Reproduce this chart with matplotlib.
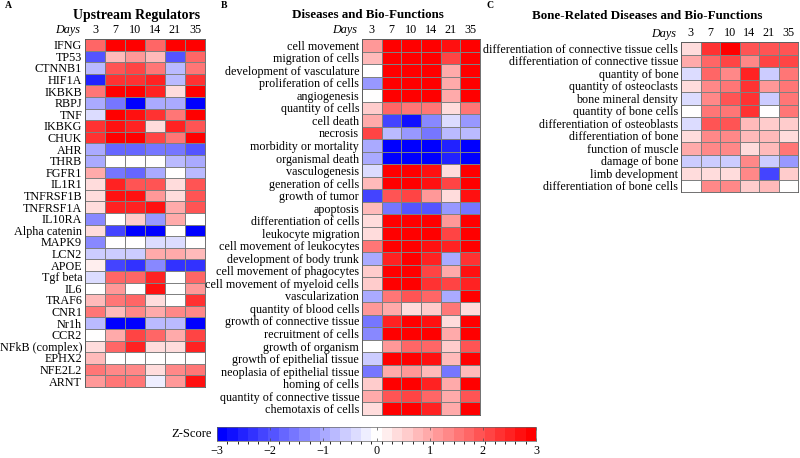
import numpy as np
import matplotlib
matplotlib.use("Agg")
import matplotlib.pyplot as plt
from matplotlib.colors import ListedColormap, BoundaryNorm

plt.rcParams['font.family'] = ['Liberation Serif', 'DejaVu Serif']

days = ["3", "7", "10", "14", "21", "35"]

# Panel A: upstream regulators (z-scores)
reg_names = ["IFNG", "TP53", "CTNNB1", "HIF1A", "IKBKB", "RBPJ", "TNF", "IKBKG",
             "CHUK", "AHR", "THRB", "FGFR1", "IL1R1", "TNFRSF1B", "TNFRSF1A",
             "IL10RA", "Alpha catenin", "MAPK9", "LCN2", "APOE", "Tgf beta", "IL6",
             "TRAF6", "CNR1", "Nr1h", "CCR2", "NFkB (complex)", "EPHX2", "NFE2L2", "ARNT"]
reg_z = [
    [1.8, 3, 3, 1.7, 3, 3],
    [-2.0, 0.8, 1.1, 0.8, -2.0, 1.8],
    [-0.7, 2.0, 2.2, 1.5, -0.7, 1.5],
    [-2.5, 2.3, 2.3, 2.6, -0.7, 2.3],
    [1.6, 3, 3, 2.6, 0.4, 3],
    [-0.9, -1.5, -3, -0.9, -0.9, -3],
    [-0.4, 3, 2.8, 2.4, 1.6, 3],
    [2.4, 2.7, 2.6, 0.4, 2.6, 2.0],
    [2.3, 3, 3, 2.2, 1.6, 3],
    [-0.9, -1.8, -1.7, -1.5, -1.6, -2.0],
    [-0.9, 0, 0, 0, -0.8, -0.9],
    [0.9, -1.6, -1.7, -0.9, 0, -0.7],
    [0.4, 2.6, 2.0, 2.0, 0.4, 2.0],
    [0.3, 2.8, 2.8, 1.1, 0.3, 2.0],
    [0.4, 2.6, 2.6, 2.8, 0.9, 2.0],
    [-1.3, 0, 0.5, -1.2, 0.9, 0],
    [0.4, -2.2, -3, -3, 0, -3],
    [-1.4, 0, 0, -0.4, -0.4, 0],
    [-0.5, -0.5, -0.5, 1.0, 1.0, 0.8],
    [0.2, -2.2, -2.3, -1.3, -2.3, -2.3],
    [-0.3, 1.7, 1.7, 2.6, 0, 1.7],
    [0, 1.2, 0, 2.7, 0, 1.2],
    [0.8, 1.6, 1.8, 0.3, 0, 2.4],
    [1.5, 0.8, 1.4, 1.0, 1.4, 1.4],
    [-0.8, -3, -3, -0.7, -0.7, -3],
    [0, 1.0, 2.2, 1.7, 1.0, 2.2],
    [0.4, 1.7, 2.6, 0.4, 0.3, 2.6],
    [0.7, 0, 0, 0, 0, 0],
    [1.6, 1.3, 1.3, 0.3, 1.3, 1.6],
    [1.2, 1.6, 1.6, -0.2, 1.1, 2.7],
]

# Panel B: diseases and bio-functions
fun_names = ["cell movement", "migration of cells", "development of vasculature",
             "proliferation of cells", "angiogenesis", "quantity of cells", "cell death",
             "necrosis", "morbidity or mortality", "organismal death", "vasculogenesis",
             "generation of cells", "growth of tumor", "apoptosis",
             "differentiation of cells", "leukocyte migration",
             "cell movement of leukocytes", "development of body trunk",
             "cell movement of phagocytes", "cell movement of myeloid cells",
             "vascularization", "quantity of blood cells", "growth of connective tissue",
             "recruitment of cells", "growth of organism", "growth of epithelial tissue",
             "neoplasia of epithelial tissue", "homing of cells",
             "quantity of connective tissue", "chemotaxis of cells"]
fun_z = [
    [1.2, 3, 3, 3, 2.7, 3],
    [0.7, 3, 3, 3, 2.2, 3],
    [0, 3, 3, 3, 0.9, 3],
    [-1.2, 3, 3, 3, 0.9, 3],
    [0, 3, 3, 3, 0.9, 3],
    [0.5, 1.8, 1.6, 1.5, 0.4, 1.5],
    [1.0, -2.2, -2.8, -1.4, -0.3, -1.2],
    [2.2, -0.8, -1.2, -1.5, -0.7, -0.8],
    [-1.0, -3, -3, -3, -2.5, -3],
    [-0.9, -3, -3, -3, -2.6, -3],
    [-0.3, 3, 3, 2.7, 0.3, 3],
    [0.8, 3, 3, 2.7, 2.2, 3],
    [-2.2, 2.0, 2.2, 1.2, 0.3, 2.8],
    [0.7, -1.5, -2.0, -2.0, -1.2, -1.5],
    [0.4, 3, 3, 3, 1.1, 3],
    [0.4, 3, 3, 3, 2.2, 3],
    [1.5, 3, 3, 2.8, 2.5, 3],
    [-1.0, 2.6, 3, 2.6, -0.9, 2.4],
    [0.6, 3, 3, 2.2, 0.9, 2.7],
    [0.6, 3, 3, 2.3, 2.2, 2.5],
    [-0.9, 1.5, 1.9, 1.8, -0.9, 3],
    [1.2, 1.0, 0.4, 0.6, 1.6, 0.3],
    [-1.5, 2.6, 3, 2.8, 0.4, 3],
    [-1.4, 3, 3, 3, 1.0, 3],
    [0, 1.1, 1.7, 1.7, 0.5, 2.0],
    [-0.6, 3, 3, 2.8, 0.7, 3],
    [-1.5, 0.9, 1.1, 0.8, -1.6, 0.8],
    [0.5, 3, 3, 2.5, 0.9, 3],
    [1.0, 2.0, 2.2, 1.8, 1.0, 2.0],
    [0.3, 3, 3, 2.5, 0.9, 3],
]

# Panel C: bone-related diseases and bio-functions
bone_names = ["differentiation of connective tissue cells",
              "differentiation of connective tissue", "quantity of bone",
              "quantity of osteoclasts", "bone mineral density", "quantity of bone cells",
              "differentiation of osteoblasts", "differentiation of bone",
              "function of muscle", "damage of bone", "limb development",
              "differentiation of bone cells"]
bone_z = [
    [0.4, 2.3, 2.9, 2.0, 1.9, 2.0],
    [0.9, 1.8, 2.2, 1.3, 2.1, 2.2],
    [-0.3, 1.8, 1.4, 2.5, -0.5, 1.5],
    [0.4, 1.4, 1.6, 2.4, 1.1, 1.6],
    [-0.3, 1.3, 2.0, 2.3, -0.5, 1.5],
    [0, 1.5, 1.5, 2.4, 0, 1.5],
    [-0.3, 1.9, 1.9, 0.7, 0.5, 0.5],
    [0.4, 1.4, 1.4, 0.8, 0.8, 0.3],
    [1.0, 1.3, 1.3, 0.3, 0.8, 1.5],
    [-0.6, -0.5, -0.5, 1.4, -0.6, -1.2],
    [0.3, 0.3, 0.3, 1.4, -2.2, 0.5],
    [0, 1.3, 1.3, 0.6, 0.7, 0],
]

# discrete blue-white-red scale, 31 steps with white centred on 0
nlev = 31
bounds = np.linspace(-3, 3, nlev + 1)
cmap = ListedColormap(plt.get_cmap('bwr')(np.linspace(0, 1, nlev)))
norm = BoundaryNorm(bounds, cmap.N, clip=True)

W, H = 800, 458
fig = plt.figure(figsize=(W / 100, H / 100), dpi=100)


def px_axes(x0, y0, x1, y1):
    return fig.add_axes([x0 / W, 1 - y1 / H, (x1 - x0) / W, (y1 - y0) / H])


def heat(ax, names, z):
    z = np.array(z)
    ax.pcolormesh(z, cmap=cmap, norm=norm, edgecolors='0.5', linewidth=0.4)
    ax.set_xlim(0, z.shape[1])
    ax.set_ylim(z.shape[0], 0)
    ax.set_yticks(np.arange(len(names)) + 0.5)
    ax.set_yticklabels(names, fontsize=8.7)
    ax.set_xticks(np.arange(len(days)) + 0.5)
    ax.set_xticklabels(days, fontsize=8.7)
    ax.xaxis.tick_top()
    ax.tick_params(length=0, pad=2)
    for s in ax.spines.values():
        s.set_linewidth(0.6)
        s.set_color('0.35')
    h = ax.get_position().height * H
    ax.text(-0.04, 1.0 + 2.5 / h, "Days", transform=ax.transAxes, style='italic',
            fontsize=8.7, ha='right', va='bottom')


axA = px_axes(85, 39, 205, 387)
heat(axA, reg_names, reg_z)
axB = px_axes(362, 39, 480, 415)
heat(axB, fun_names, fun_z)
axC = px_axes(681, 42, 798, 192)
heat(axC, bone_names, bone_z)

fig.text(137 / W, 1 - 15 / H, "Upstream Regulators", fontsize=10, fontweight='bold',
         ha='center', va='center')
fig.text(368 / W, 1 - 15 / H, "Diseases and Bio-Functions", fontsize=9.4, fontweight='bold',
         ha='center', va='center')
fig.text(647 / W, 1 - 16 / H, "Bone-Related Diseases and Bio-Functions", fontsize=9.4,
         fontweight='bold', ha='center', va='center')
for lab, x in [("A", 5), ("B", 221), ("C", 486)]:
    fig.text(x / W, 1 - 6 / H, lab, fontsize=7, fontweight='bold', ha='left', va='center')

# colour bar
cax = px_axes(217, 427, 536, 441)
sm = plt.cm.ScalarMappable(cmap=cmap, norm=norm)
cb = fig.colorbar(sm, cax=cax, orientation='horizontal', ticks=[-3, -2, -1, 0, 1, 2, 3])
cb.ax.tick_params(labelsize=8.7, length=2, width=0.5, pad=3, direction='in',
                  top=True, color='0.3')
cb.ax.set_xticklabels(["\u22123", "\u22122", "\u22121", "0", "1", "2", "3"])
cb.outline.set_linewidth(0.5)
cb.outline.set_edgecolor('0.4')
fig.text(212 / W, 1 - 434 / H, "Z-Score", fontsize=9, ha='right', va='center')

fig.savefig("out.png", dpi=100)
